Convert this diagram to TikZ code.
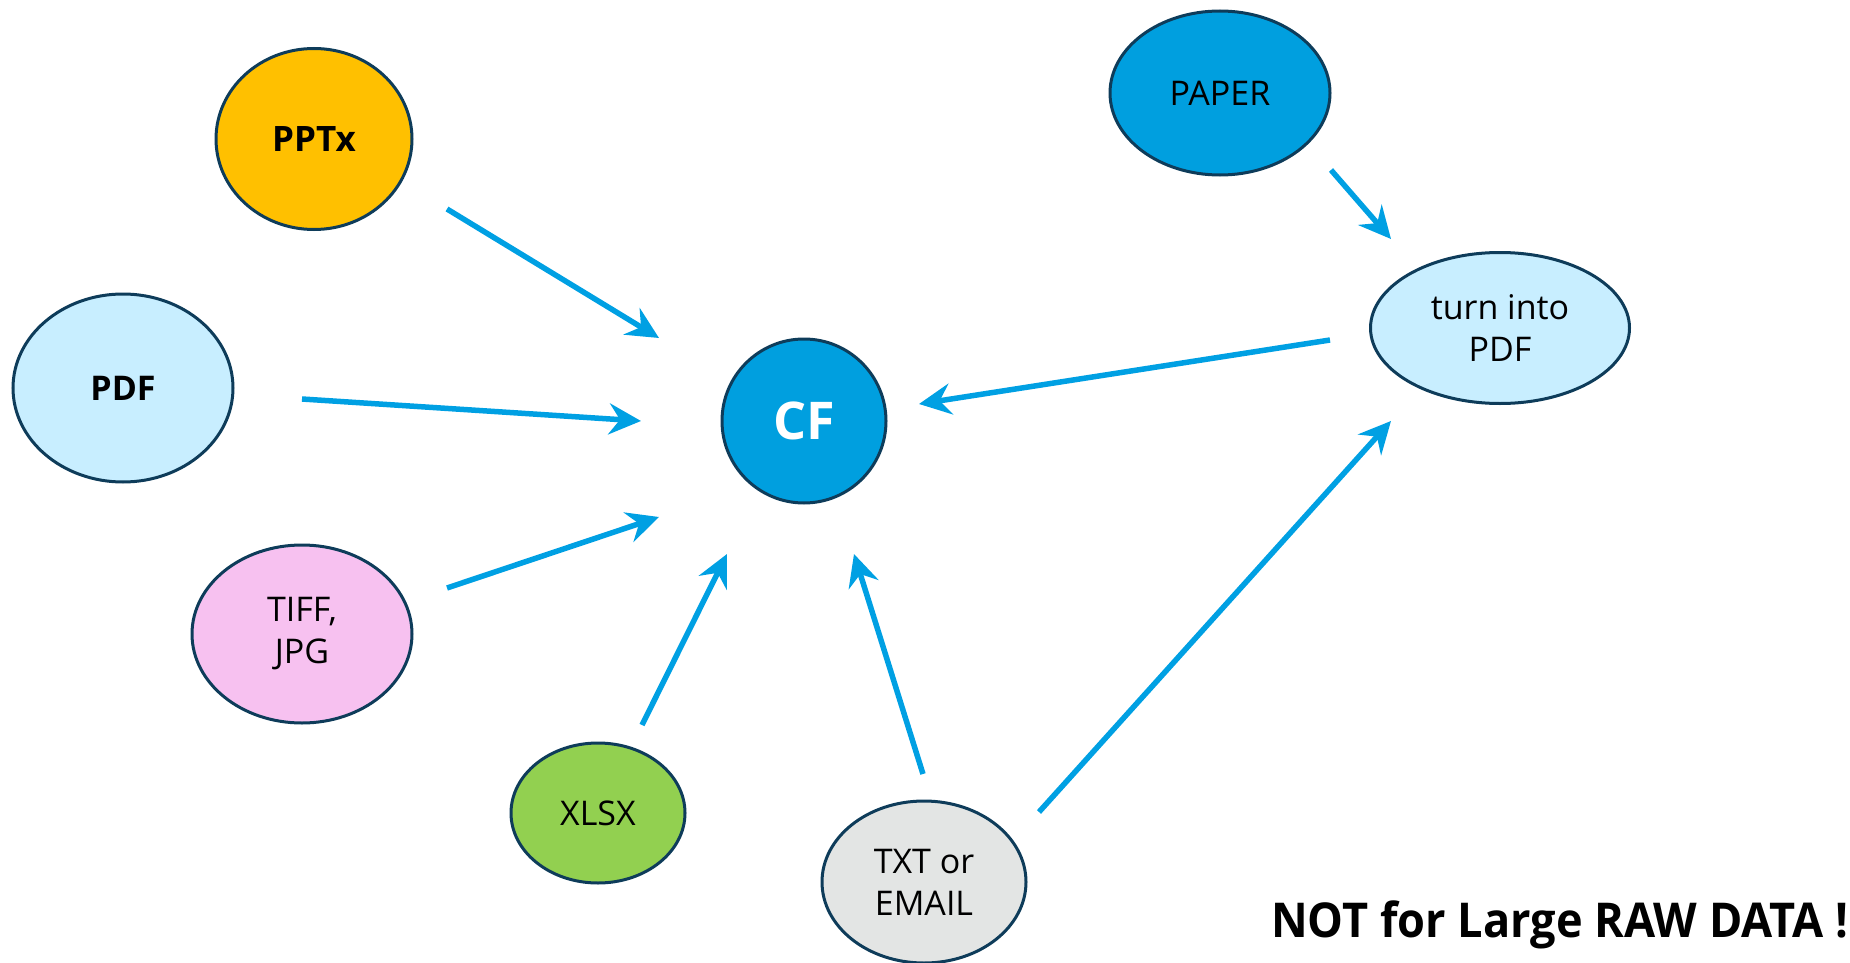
\documentclass[tikz,border=0pt]{standalone}
\usepackage{fontspec}
\setmainfont{Open Sans}
\newfontfamily\notefont[FakeStretch=0.94]{Open Sans}
\usetikzlibrary{shapes.geometric,arrows.meta}
\definecolor{edgecol}{RGB}{14,60,90}
\definecolor{arrcol}{RGB}{0,160,227}
\definecolor{cfblue}{RGB}{0,159,223}
\definecolor{pptcol}{RGB}{255,192,0}
\definecolor{pdfcol}{RGB}{200,238,255}
\definecolor{tiffcol}{RGB}{247,193,240}
\definecolor{xlsxcol}{RGB}{146,208,80}
\definecolor{txtcol}{RGB}{227,229,228}
\tikzset{
  blob/.style={ellipse, draw=edgecol, line width=3pt, inner sep=0pt, align=center,
    font=\fontsize{34}{42}\selectfont},
  boldtxt/.style={font=\fontsize{34}{42}\selectfont\bfseries},
  flow/.style={draw=arrcol, line width=5.5pt,
    -{Stealth[length=32pt,width=31pt,inset=11pt]}}
}
\begin{document}
\begin{tikzpicture}[x=1pt,y=-1pt]
\useasboundingbox (0,0) rectangle (1850,963);
\node[blob, fill=pptcol, font=\fontsize{35}{42}\selectfont\bfseries, minimum width=196pt, minimum height=181pt] (ppt) at (314,139) {PPTx};
\node[blob, fill=pdfcol, boldtxt, minimum width=220pt, minimum height=188pt] (pdf) at (123,388) {PDF};
\node[blob, fill=tiffcol, minimum width=220pt, minimum height=178pt] (tiff) at (302,634) {TIFF,\\JPG};
\node[blob, fill=xlsxcol, minimum width=174pt, minimum height=140pt] (xlsx) at (598,813) {XLSX};
\node[blob, fill=txtcol, minimum width=204pt, minimum height=162pt] (txt) at (924,882) {TXT or\\EMAIL};
\node[circle, draw=edgecol, line width=3pt, fill=cfblue, minimum size=164pt, inner sep=0pt,
  text=white, font=\fontsize{52}{60}\selectfont\bfseries] (cf) at (804,421) {CF};
\node[blob, fill=cfblue, minimum width=220pt, minimum height=164pt] (paper) at (1220,93) {PAPER};
\node[blob, fill=pdfcol, minimum width=259pt, minimum height=151pt] (turn) at (1500,328) {turn into\\PDF};
\node[anchor=base west, inner sep=0pt, font=\notefont\fontsize{48}{56}\selectfont\bfseries] (note) at (1271,937) {NOT for Large RAW DATA !};

\coordinate (a1s) at (447,209); \coordinate (a1e) at (659,338);
\coordinate (a2s) at (302,399); \coordinate (a2e) at (641,421);
\coordinate (a3s) at (447,588); \coordinate (a3e) at (659,517);
\coordinate (a4s) at (642,725); \coordinate (a4e) at (727,554);
\coordinate (a5s) at (923,774); \coordinate (a5e) at (854,554);
\coordinate (a6s) at (1039,812); \coordinate (a6e) at (1391,421);
\coordinate (a7s) at (1331,170); \coordinate (a7e) at (1391,239);
\coordinate (a8s) at (1330,340); \coordinate (a8e) at (919,404);

\draw[flow] (a1s) -- (a1e);
\draw[flow] (a2s) -- (a2e);
\draw[flow] (a3s) -- (a3e);
\draw[flow] (a4s) -- (a4e);
\draw[flow] (a5s) -- (a5e);
\draw[flow] (a6s) -- (a6e);
\draw[flow] (a7s) -- (a7e);
\draw[flow] (a8s) -- (a8e);
\end{tikzpicture}
\end{document}
